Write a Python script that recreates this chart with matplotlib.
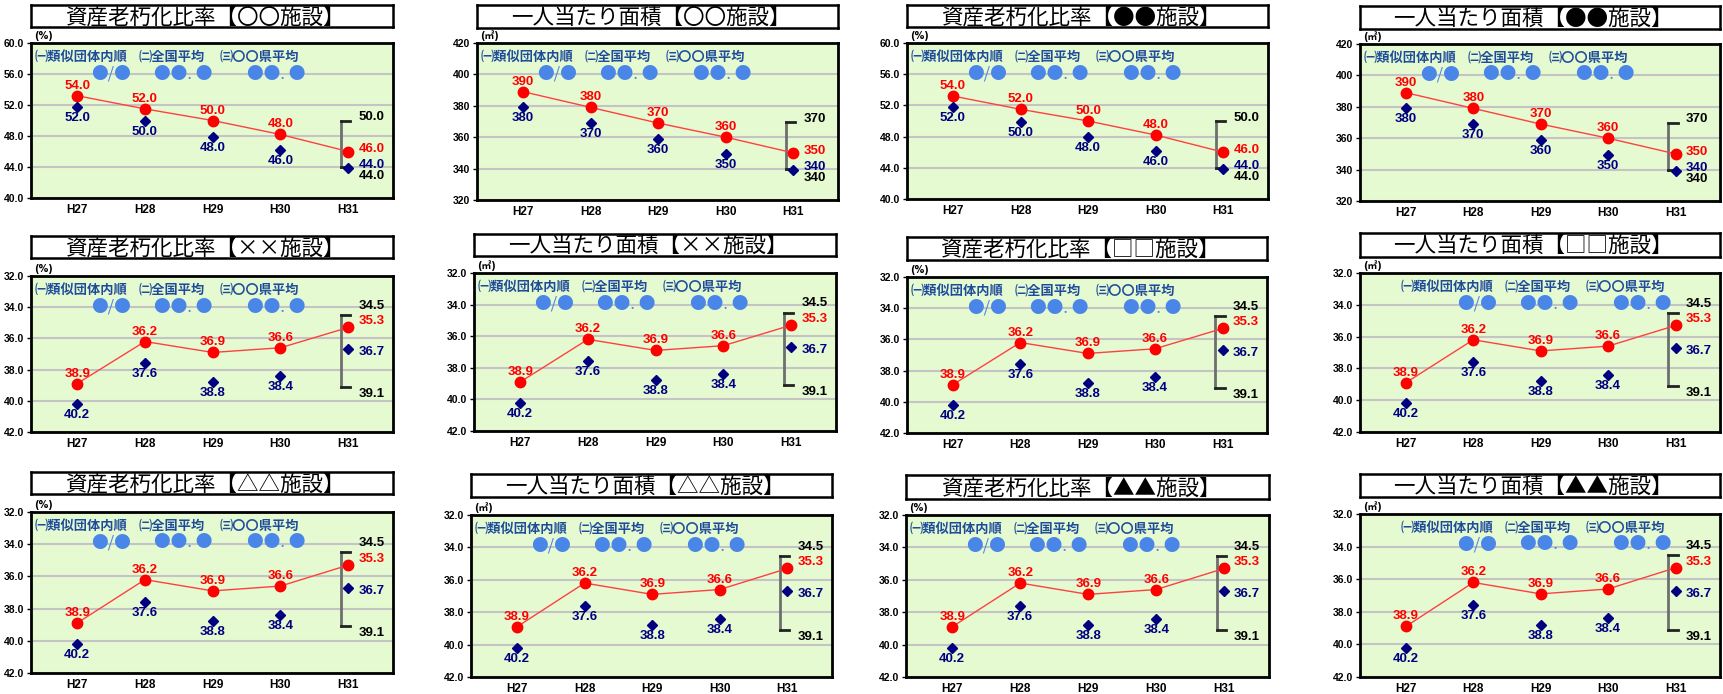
import matplotlib
matplotlib.use('Agg')
import matplotlib.pyplot as plt

W, H, DPI = 1723, 694, 100

# ---------------- data ----------------
categories = ['H27', 'H28', 'H29', 'H30', 'H31']

# top row : 資産老朽化比率
ratio_own_top = [53.2, 51.5, 50.0, 48.2, 46.0]
ratio_own_top_labels = ['54.0', '52.0', '50.0', '48.0', '46.0']
ratio_avg_top = [51.8, 49.9, 47.9, 46.2, 43.9]
ratio_avg_top_labels = ['52.0', '50.0', '48.0', '46.0', '44.0']
ratio_range_top = [50.0, 44.0]          # top, bottom of bracket (H31)
ratio_range_top_labels = ['50.0', '44.0']
ratio_ticks_top = [40, 44, 48, 52, 56, 60]

# top row : 一人当たり面積
area_own_top = [389, 379, 369, 360, 350]
area_own_top_labels = ['390', '380', '370', '360', '350']
area_avg_top = [379, 369, 359, 349, 339]
area_avg_top_labels = ['380', '370', '360', '350', '340']
area_range_top = [370, 340]
area_range_top_labels = ['370', '340']
area_ticks_top = [320, 340, 360, 380, 400, 420]

# rows 2 and 3 (same values in every panel)
own_low = [38.9, 36.2, 36.9, 36.6, 35.3]
own_low_labels = ['38.9', '36.2', '36.9', '36.6', '35.3']
avg_low = [40.2, 37.6, 38.8, 38.4, 36.7]
avg_low_labels = ['40.2', '37.6', '38.8', '38.4', '36.7']
range_low = [34.5, 39.1]
range_low_labels = ['34.5', '39.1']
ticks_low = [32, 34, 36, 38, 40, 42]

facilities = ['〇〇', '●●', '××', '□□', '△△', '▲▲']
title_ratio = '資産老朽化比率'
title_area = '一人当たり面積'
unit_ratio = '(%)'
unit_area = '(㎡)'
legend_items = ['㈠類似団体内順', '㈡全国平均', '㈢〇〇県平均']
legend_values = ['●/●', '●●. ●', '●●. ●']

# ---------------- layout (pixels) ----------------
# x0, x1, plot_top, plot_bottom, title_top, title_bottom, legend shift
layout = [
    (31, 393, 43, 198, 5, 27, 0), (477, 838, 43, 200, 5, 28, 0),
    (907, 1268, 43, 199, 5, 27, 0), (1360, 1720, 44, 201, 6, 29, 0),
    (31, 393, 276, 432, 236, 258, 0), (474, 836, 273, 431, 234, 256, 0),
    (907, 1267, 277, 433, 237, 260, 0), (1360, 1720, 273, 432, 233, 257, 37),
    (31, 393, 512, 673, 472, 494, 0), (471, 832, 515, 677, 474, 497, 0),
    (906, 1269, 515, 677, 475, 499, 0), (1360, 1720, 514, 677, 474, 497, 37),
]

NUM = ['Liberation Sans Narrow', 'Liberation Sans', 'DejaVu Sans']
CJK = ['Noto Sans CJK JP', 'DejaVu Sans']
plt.rcParams['font.family'] = NUM

RED = '#FF0000'
NAVY = '#000080'
BG = '#E6FAD2'
LEG_TXT = '#1E4C9A'
LEG_CIRC = '#4A86E8'

fig = plt.figure(figsize=(W / DPI, H / DPI), dpi=DPI)
fig.patch.set_facecolor('white')


def rect(x0, x1, top, bottom):
    return [x0 / W, 1 - bottom / H, (x1 - x0) / W, (bottom - top) / H]


for i, (x0, x1, pt, pb, tt, tb, lsh) in enumerate(layout):
    row, col = divmod(i, 4)
    is_ratio = (col % 2 == 0)
    fac = facilities[row * 2 + col // 2]

    if row == 0:
        if is_ratio:
            own, own_l = ratio_own_top, ratio_own_top_labels
            avg, avg_l = ratio_avg_top, ratio_avg_top_labels
            rng, rng_l = ratio_range_top, ratio_range_top_labels
            ticks = ratio_ticks_top
            fmt = '{:.1f}'
        else:
            own, own_l = area_own_top, area_own_top_labels
            avg, avg_l = area_avg_top, area_avg_top_labels
            rng, rng_l = area_range_top, area_range_top_labels
            ticks = area_ticks_top
            fmt = '{:d}'
        inverted = False
        offs = dict(top=3, red=2, navy=3, bot=-9)
    else:
        own, own_l = own_low, own_low_labels
        avg, avg_l = avg_low, avg_low_labels
        rng, rng_l = range_low, range_low_labels
        ticks = ticks_low
        fmt = '{:.1f}'
        inverted = True
        offs = dict(top=9, red=6, navy=-3, bot=-7)

    ax = fig.add_axes(rect(x0, x1, pt, pb))
    ax.set_facecolor(BG)
    xs = list(range(len(categories)))
    ax.set_xlim(-0.68, 4.66)
    ax.set_ylim(ticks[0], ticks[-1])
    if inverted:
        ax.invert_yaxis()
    ax.set_yticks(ticks)
    ax.set_yticklabels([fmt.format(t) for t in ticks], fontsize=7.5,
                       fontweight='bold')
    ax.set_xticks(xs)
    ax.set_xticklabels(categories, fontsize=8.5, fontweight='bold')
    ax.tick_params(axis='x', length=0, pad=4)
    ax.tick_params(axis='y', length=3, width=1, pad=2)
    for s in ax.spines.values():
        s.set_linewidth(2)
        s.set_color('black')
    ax.grid(axis='y', color='#C4C4C4', linewidth=1.5)
    ax.set_axisbelow(True)

    # bracket at H31
    xb = xs[-1] - 0.11
    ax.plot([xb, xb], rng, color='#6E6E6E', lw=2, zorder=2)
    for v in rng:
        ax.plot([xb, xb + 0.14], [v, v], color='#222222', lw=2, zorder=2)

    # series
    ax.plot(xs, own, color='#FF4040', lw=1, zorder=3)
    ax.plot(xs, own, 'o', color=RED, ms=7.5, zorder=4)
    ax.plot(xs, avg, 'D', color=NAVY, ms=5.5, zorder=4)

    for k in range(len(xs) - 1):
        ax.annotate(own_l[k], (xs[k], own[k]), xytext=(0, 10),
                    textcoords='offset pixels', ha='center', va='center',
                    color=RED, fontsize=9.5, fontweight='bold', zorder=5)
        ax.annotate(avg_l[k], (xs[k], avg[k]), xytext=(0, -11),
                    textcoords='offset pixels', ha='center', va='center',
                    color=NAVY, fontsize=9.5, fontweight='bold', zorder=5)
    k = len(xs) - 1
    ax.annotate(rng_l[0], (xs[k], rng[0]), xytext=(10, offs['top']),
                textcoords='offset pixels', ha='left', va='center',
                color='black', fontsize=9.5, fontweight='bold')
    ax.annotate(own_l[k], (xs[k], own[k]), xytext=(10, offs['red']),
                textcoords='offset pixels', ha='left', va='center',
                color=RED, fontsize=9.5, fontweight='bold')
    ax.annotate(avg_l[k], (xs[k], avg[k]), xytext=(10, offs['navy']),
                textcoords='offset pixels', ha='left', va='center',
                color=NAVY, fontsize=9.5, fontweight='bold')
    ax.annotate(rng_l[1], (xs[k], rng[1]), xytext=(10, offs['bot']),
                textcoords='offset pixels', ha='left', va='center',
                color='black', fontsize=9.5, fontweight='bold')

    # unit label
    ax.annotate(unit_ratio if is_ratio else unit_area, (0, 1),
                xycoords='axes fraction', xytext=(3, 2),
                textcoords='offset pixels', ha='left', va='bottom',
                fontsize=7, fontweight='bold',
                family=['DejaVu Sans', 'Noto Sans CJK JP'])

    # in-plot legend text
    for txt, dx in zip(legend_items, [4, 108, 189]):
        ax.annotate(txt, (0, 1), xycoords='axes fraction',
                    xytext=(dx + lsh, -14), textcoords='offset pixels',
                    ha='left', va='center', color=LEG_TXT, fontsize=9.5,
                    fontweight='bold', family=CJK)
    for txt, dx in zip(legend_values, [60, 123, 216]):
        ax.annotate(txt, (0, 1), xycoords='axes fraction',
                    xytext=(dx + lsh, -31), textcoords='offset pixels',
                    ha='left', va='center', color=LEG_CIRC, fontsize=12,
                    family=CJK)

    # title box
    tax = fig.add_axes(rect(x0, x1, tt, tb))
    tax.set_xticks([])
    tax.set_yticks([])
    tax.set_facecolor('white')
    for s in tax.spines.values():
        s.set_linewidth(1.8)
    ttl = (title_ratio if is_ratio else title_area) + '【' + fac + '施設】'
    tax.text(0.5 - 7 / (x1 - x0), 0.45, ttl, ha='center', va='center',
             fontsize=15.5, family=CJK, color='black')

fig.savefig('out.png', dpi=DPI, facecolor='white')
